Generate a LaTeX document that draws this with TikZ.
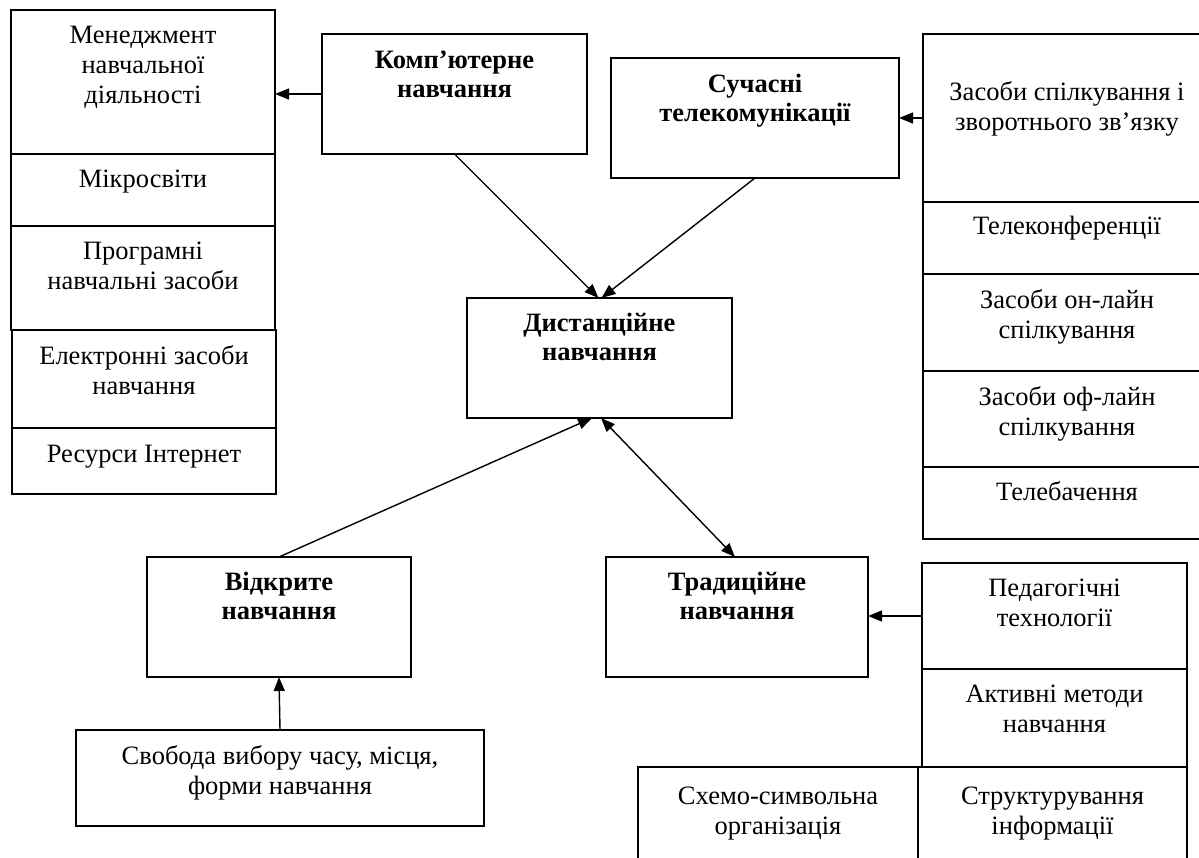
\documentclass[tikz,border=0pt]{standalone}
\usepackage{fontspec}
\setmainfont{Liberation Serif}
\usetikzlibrary{arrows.meta,calc}
\newcommand{\bxt}[4]{\parbox[c][#2pt][t]{#1pt}{\centering\rule{0pt}{#3pt}#4\par}}
\tikzset{
  bx/.style={draw, line width=1.6pt, inner sep=0pt, outer sep=0pt, font=\fontsize{26.5}{30}\selectfont},
  bbx/.style={bx, font=\fontsize{26.5}{29}\selectfont\bfseries},
  arr/.style={line width=1.4pt, -{Triangle[length=14pt,width=11pt]}},
  darr/.style={line width=1.4pt, {Triangle[length=14pt,width=11pt]}-{Triangle[length=14pt,width=11pt]}}
}
\begin{document}
\begin{tikzpicture}[x=1pt,y=-1pt]
\useasboundingbox (0,0) rectangle (1199,858);
\clip (0,0) rectangle (1199,858);
% left column
\node[bx] (men) at (143,82) {\bxt{264}{144}{34}{Менеджмент\\навчальної\\діяльності}};
\node[bx] (mik) at (143,190) {\bxt{264}{72}{34}{Мікросвіти}};
\node[bx] (prog) at (143,278) {\bxt{264}{104}{34}{Програмні\\навчальні засоби}};
\node[bx] (elek) at (144,379) {\bxt{264}{98}{34}{Електронні засоби\\навчання}};
\node[bx] (res) at (144,461) {\bxt{264}{66}{34}{Ресурси Інтернет}};
% main boxes
\node[bbx] (comp) at (454.5,94) {\bxt{265}{120}{35}{Комп’ютерне\\навчання}};
\node[bbx] (such) at (755,118) {\bxt{288}{120}{35}{Сучасні\\телекомунікації}};
\node[bbx] (dist) at (599.5,358) {\bxt{265}{120}{34}{Дистанційне\\навчання}};
\node[bbx] (vidk) at (279,617) {\bxt{264}{120}{33}{Відкрите\\навчання}};
\node[bbx] (trad) at (737,617) {\bxt{262}{120}{33}{Традиційне\\навчання}};
\node[bx] (svob) at (280,778) {\bxt{408}{96}{34}{Свобода вибору часу, місця,\\форми навчання}};
% right column
\node[bx] (rt1) at (1067,118) {\bxt{288}{168}{67}{Засоби спілкування і\\зворотнього зв’язку}};
\node[bx] (rt2) at (1067,238) {\bxt{288}{72}{33}{Телеконференції}};
\node[bx] (rt3) at (1067,322.5) {\bxt{288}{97}{35}{Засоби он-лайн\\спілкування}};
\node[bx] (rt4) at (1067,419) {\bxt{288}{96}{34}{Засоби оф-лайн\\спілкування}};
\node[bx] (rt5) at (1067,503) {\bxt{288}{72}{33}{Телебачення}};
% bottom right
\node[bx] (ped) at (1054.5,616) {\bxt{265}{106}{33}{Педагогічні\\технології}};
\node[bx] (akt) at (1054.5,718) {\bxt{265}{98}{33}{Активні методи\\навчання}};
\node[bx, line width=2.2pt] (str) at (1052.5,823.5) {\bxt{269}{113}{37}{Структурування\\інформації}};
\node[bx] (sch) at (778,823.5) {\bxt{280}{113}{37}{Схемо-символьна\\організація}};
% connectors
\draw[arr] (comp.west) -- (comp.west -| men.east);
\draw[arr] (such.east -| rt1.west) -- (such.east);
\draw[arr] (comp.south) -- ([xshift=-1pt]dist.north);
\draw[arr] (such.south) -- ([xshift=2pt]dist.north);
\draw[arr] (vidk.north) -- ([xshift=-7.5pt]dist.south);
\draw[darr] ([xshift=1.5pt]dist.south) -- ([xshift=-2pt]trad.north);
\draw[arr] (svob.north) -- (vidk.south);
\draw[arr] (ped.west) -- (ped.west -| trad.east);
\end{tikzpicture}
\end{document}
